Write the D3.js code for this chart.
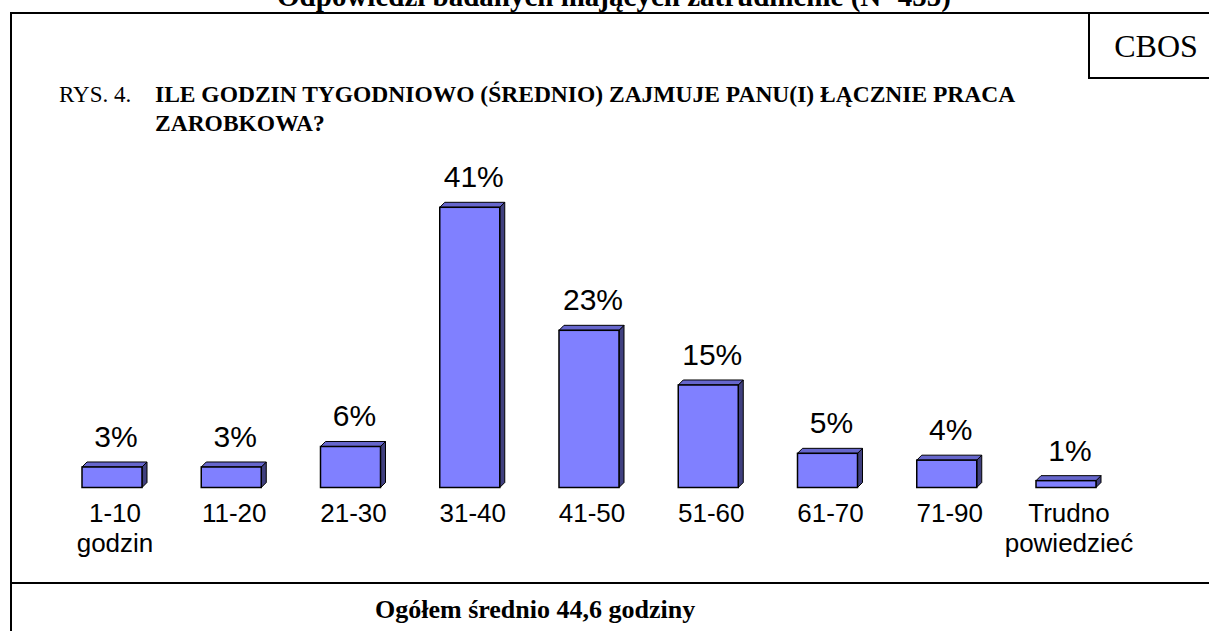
<!DOCTYPE html>
<html>
<head>
<meta charset="utf-8">
<script src="https://cdn.jsdelivr.net/npm/d3@7"></script>
<style>
  html, body { margin: 0; padding: 0; background: #ffffff; }
  svg { display: block; }
</style>
</head>
<body>
<svg id="chart" width="1209" height="631"></svg>
<script>
// ---- data ----
const categories = ["1-10", "11-20", "21-30", "31-40", "41-50", "51-60", "61-70", "71-90", "Trudno"];
const categorySecondLines = ["godzin", "", "", "", "", "", "", "", "powiedzieć"];
const values = [3, 3, 6, 41, 23, 15, 5, 4, 1];
const valueLabels = ["3%", "3%", "6%", "41%", "23%", "15%", "5%", "4%", "1%"];
const topTitle = "Odpowiedzi badanych mających zatrudnienie (N=455)";
const figLabel = "RYS. 4.";
const questionLines = ["ILE GODZIN TYGODNIOWO (ŚREDNIO) ZAJMUJE PANU(I) ŁĄCZNIE PRACA", "ZAROBKOWA?"];
const sourceLabel = "CBOS";
const footerText = "Ogółem średnio 44,6 godziny";

// ---- layout ----
const svg = d3.select("#chart");
const serif = "'Liberation Serif', 'Times New Roman', serif";
const sans = "'Liberation Sans', Arial, sans-serif";

// frame
const frame = svg.append("g").attr("stroke", "#000").attr("stroke-width", 2).attr("fill", "none");
frame.append("line").attr("x1", 10).attr("x2", 1209).attr("y1", 13).attr("y2", 13);
frame.append("line").attr("x1", 11).attr("x2", 11).attr("y1", 12).attr("y2", 631);
frame.append("line").attr("x1", 1089).attr("x2", 1089).attr("y1", 13).attr("y2", 78);
frame.append("line").attr("x1", 1088).attr("x2", 1209).attr("y1", 78).attr("y2", 78);
frame.append("line").attr("x1", 10).attr("x2", 1209).attr("y1", 583).attr("y2", 583);

// texts
svg.append("text").attr("x", 614).attr("y", 6).attr("text-anchor", "middle")
  .attr("font-family", serif).attr("font-weight", "bold").attr("font-size", 29).text(topTitle);
svg.append("text").attr("x", 1156).attr("y", 57).attr("text-anchor", "middle")
  .attr("font-family", serif).attr("font-size", 32).text(sourceLabel);
svg.append("text").attr("x", 59).attr("y", 102)
  .attr("font-family", serif).attr("font-size", 23).text(figLabel);
svg.selectAll("text.q").data(questionLines).join("text").attr("class", "q")
  .attr("x", 155).attr("y", (d, i) => 102 + i * 28.5)
  .attr("font-family", serif).attr("font-weight", "bold").attr("font-size", 23.5).text(d => d);
svg.append("text").attr("x", 375).attr("y", 618)
  .attr("font-family", serif).attr("font-weight", "bold").attr("font-size", 26).text(footerText);

// scales
const x = d3.scalePoint().domain(categories).range([112, 1066]);
const y = d3.scaleLinear().domain([0, 41]).range([487.5, 207.3]);
const bw = 60, dx = 5, dy = 5;

const bars = svg.append("g").selectAll("g.bar")
  .data(values.map((v, i) => ({ v, c: categories[i], lab: valueLabels[i], l2: categorySecondLines[i] })))
  .join("g").attr("class", "bar");

// side face
bars.append("path")
  .attr("d", d => {
    const x1 = x(d.c) + bw / 2, yt = y(d.v), yb = y(0);
    return `M${x1},${yt}L${x1 + dx},${yt - dy}L${x1 + dx},${yb - dy}L${x1},${yb}Z`;
  })
  .attr("fill", "#40407f").attr("stroke", "#000").attr("stroke-width", 1).attr("stroke-linejoin", "round");
// top face
bars.append("path")
  .attr("d", d => {
    const x0 = x(d.c) - bw / 2, x1 = x(d.c) + bw / 2, yt = y(d.v);
    return `M${x0},${yt}L${x0 + dx},${yt - dy}L${x1 + dx},${yt - dy}L${x1},${yt}Z`;
  })
  .attr("fill", "#6666cc").attr("stroke", "#000").attr("stroke-width", 1).attr("stroke-linejoin", "round");
// front face
bars.append("rect")
  .attr("x", d => x(d.c) - bw / 2).attr("width", bw)
  .attr("y", d => y(d.v)).attr("height", d => y(0) - y(d.v))
  .attr("fill", "#8080ff").attr("stroke", "#000").attr("stroke-width", 1.5);

// value labels
bars.append("text")
  .attr("x", d => x(d.c) + 4).attr("y", d => y(d.v) - 20)
  .attr("text-anchor", "middle").attr("font-family", sans).attr("font-size", 30)
  .attr("fill", "#000").text(d => d.lab);

// category labels
bars.append("text")
  .attr("x", d => x(d.c) + 3).attr("y", 522)
  .attr("text-anchor", "middle").attr("font-family", sans).attr("font-size", 26)
  .attr("fill", "#000").text(d => d.c);
bars.append("text")
  .attr("x", d => x(d.c) + 3).attr("y", 552)
  .attr("text-anchor", "middle").attr("font-family", sans).attr("font-size", 26)
  .attr("fill", "#000").text(d => d.l2);
</script>
</body>
</html>
